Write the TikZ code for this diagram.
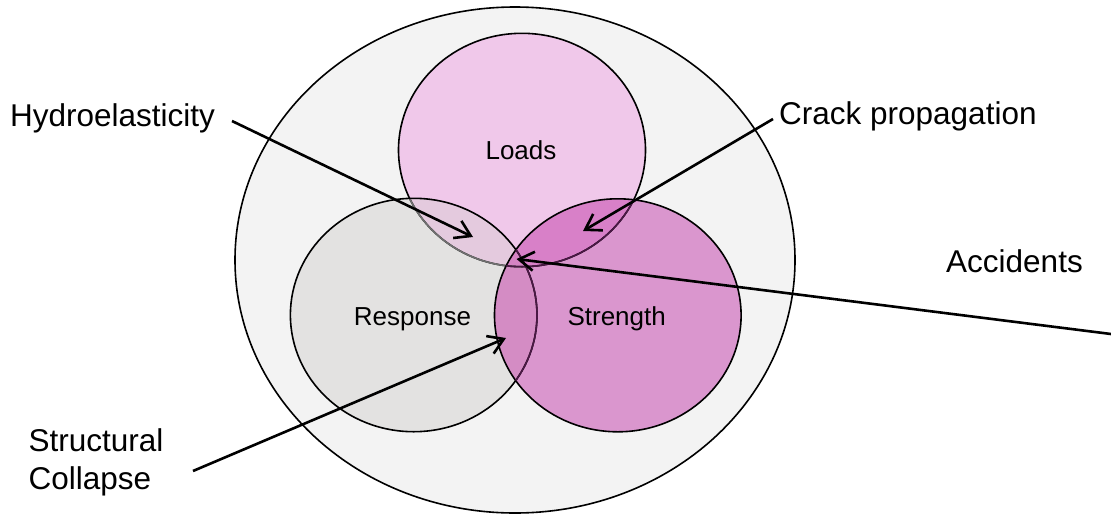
\documentclass[tikz,border=0pt]{standalone}
\usepackage{fontspec}
\setmainfont{Liberation Sans}
\usetikzlibrary{arrows.meta}
\definecolor{outerfill}{HTML}{F3F3F3}
\definecolor{loadsfill}{HTML}{F0C8EA}
\definecolor{respfill}{HTML}{E3E2E1}
\definecolor{strfill}{HTML}{DA96CE}
\definecolor{lrfill}{HTML}{E4CADE}
\definecolor{lsfill}{HTML}{D880C8}
\definecolor{rsfill}{HTML}{D48CC4}
\definecolor{lrsfill}{HTML}{D583C4}
\definecolor{grayedge}{HTML}{707070}
\definecolor{purpleedge}{HTML}{4B1845}
\newcommand\pathOuter{(515,260) ellipse [x radius=280pt, y radius=253pt]}
\newcommand\pathLoads{(522,150) ellipse [x radius=123.5pt, y radius=116.7pt]}
\newcommand\pathResp{(413.7,315) ellipse [x radius=123.3pt, y radius=116.7pt]}
\newcommand\pathStr{(617.8,315.3) ellipse [x radius=123.3pt, y radius=116.5pt]}
\tikzset{
  outline/.style={line width=1.6pt},
  arr/.style={line width=2.6pt, -{Straight Barb[length=15pt,width=19pt]}},
  biglabel/.style={inner sep=0pt, font=\fontsize{31.5}{38}\selectfont},
  setlabel/.style={inner sep=0pt, font=\fontsize{26}{31}\selectfont, anchor=base},
}
\begin{document}
\begin{tikzpicture}[x=1pt,y=-1pt]
\useasboundingbox (0,0) rectangle (1111,515);
\fill[white] (0,0) rectangle (1111,515);
% outer set
\fill[outerfill] \pathOuter;
\draw[outline] \pathOuter;
% set fills
\fill[loadsfill] \pathLoads;
\fill[respfill] \pathResp;
\fill[strfill] \pathStr;
\begin{scope}
  \clip \pathLoads;
  \fill[lrfill] \pathResp;
  \fill[lsfill] \pathStr;
\end{scope}
\begin{scope}
  \clip \pathResp;
  \fill[rsfill] \pathStr;
  \clip \pathLoads;
  \fill[lrsfill] \pathStr;
\end{scope}
% outlines
\draw[outline] \pathLoads;
\begin{scope}
  \clip \pathResp;
  \draw[outline, grayedge] \pathLoads;
\end{scope}
\draw[outline] \pathResp;
\draw[outline] \pathStr;
\begin{scope}
  \clip \pathStr;
  \draw[outline, purpleedge] \pathLoads;
  \draw[outline, purpleedge] \pathResp;
\end{scope}
% set labels
\node[setlabel] (loads) at (521,159) {Loads};
\node[setlabel] (response) at (412.5,325) {Response};
\node[setlabel] (strength) at (616.7,325) {Strength};
% outer labels
\node[biglabel, anchor=base west] (hydro) at (10,126.5) {Hydroelasticity};
\node[biglabel, anchor=base west] (crack) at (779,124) {Crack propagation};
\node[biglabel, anchor=base west] (accidents) at (946,272) {Accidents};
\node[biglabel, anchor=north west, align=left] (collapse) at (28.5,428) {Structural\\Collapse};
% connector ends
\coordinate (hydroStart) at (232,121);
\coordinate (hydroTip) at (473,237);
\coordinate (crackStart) at (773,119);
\coordinate (crackTip) at (583,231);
\coordinate (accStart) at (1111,334);
\coordinate (accTip) at (516.5,259);
\coordinate (colStart) at (193,471);
\coordinate (colTip) at (506,338);
\draw[arr] (hydroStart) -- (hydroTip);
\draw[arr] (crackStart) -- (crackTip);
\draw[arr] (accStart) -- (accTip);
\draw[arr] (colStart) -- (colTip);
\end{tikzpicture}
\end{document}
